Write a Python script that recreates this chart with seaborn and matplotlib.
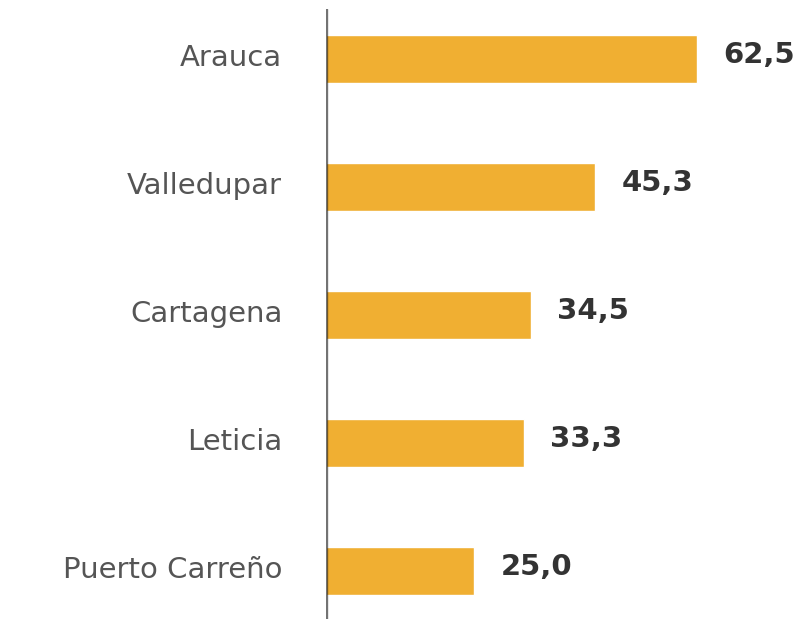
import matplotlib
matplotlib.use("Agg")
import matplotlib.pyplot as plt
import matplotlib.transforms as mtransforms
import seaborn as sns
import pandas as pd

ciudades = ["Arauca", "Valledupar", "Cartagena", "Leticia", "Puerto Carreño"]
valores = [62.5, 45.3, 34.5, 33.3, 25.0]

df = pd.DataFrame({"ciudad": ciudades, "valor": valores})

sns.set_theme(style="white")
plt.rcParams["font.family"] = ["DejaVu Sans"]

fig = plt.figure(figsize=(8.05, 6.19), dpi=100)
ax = fig.add_axes([326 / 805, 0, 1 - 326 / 805, 1 - 9 / 619])

sns.barplot(data=df, x="valor", y="ciudad", orient="h", color="#F0AF32",
            saturation=1, width=0.37, ax=ax)

# nudge text slightly upward relative to bar centers
lift = mtransforms.ScaledTranslation(0, 3 / 72, fig.dpi_scale_trans)

for i, v in enumerate(valores):
    ax.text(v + 4.5, i, f"{v:.1f}".replace(".", ","), va="center", ha="left",
            fontsize=21, fontweight="bold", color="#333333",
            transform=ax.transData + lift)

ax.set_xlim(0, 80.7)
ax.set_ylim(4.375, -0.39)
ax.set_xlabel("")
ax.set_ylabel("")
ax.set_xticks([])
ax.tick_params(axis="y", length=0, pad=31.5, labelsize=21, labelcolor="#555555")
for lbl in ax.get_yticklabels():
    lbl.set_transform(lbl.get_transform() + lift)

for s in ["top", "right", "bottom", "left"]:
    ax.spines[s].set_visible(False)
ax.axvline(0, color="#000000", alpha=0.55, linewidth=2.4, zorder=5)

fig.savefig("out.png", dpi=100)
